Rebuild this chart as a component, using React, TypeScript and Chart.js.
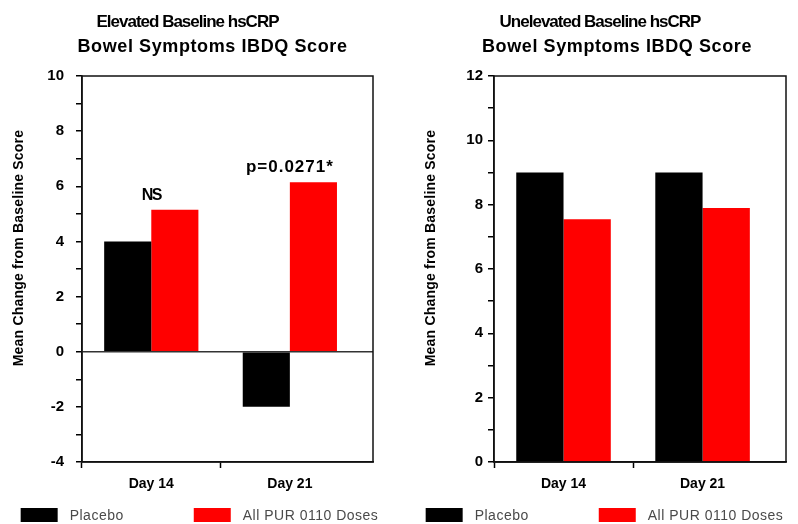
import React, { useEffect, useRef } from 'react';
import { Chart, registerables } from 'chart.js';

Chart.register(...registerables);

// ---- data ----
const categories = ['Day 14', 'Day 21'];
const seriesNames = ['Placebo', 'All PUR 0110 Doses'];
const seriesColors = ['#000000', '#ff0000'];

const elevatedPlacebo = [4, -2];
const elevatedPur = [5.15, 6.15];
const elevatedNotes = ['NS', 'p=0.0271*'];
const elevatedTitle = ['Elevated Baseline hsCRP', 'Bowel Symptoms IBDQ Score'];
const elevatedRange = [-4, 10];

const unelevatedPlacebo = [9, 9];
const unelevatedPur = [7.55, 7.9];
const unelevatedNotes = ['', ''];
const unelevatedTitle = ['Unelevated Baseline hsCRP', 'Bowel Symptoms IBDQ Score'];
const unelevatedRange = [0, 12];

const yAxisTitle = 'Mean Change from Baseline Score';

const FONT = "'Liberation Sans', Arial, Helvetica, sans-serif";

function makePlugins(titleLines: string[], notes: string[], title2Shift: number, legendShift: number) {
  const frame = {
    id: 'frame',
    afterDraw(chart: any) {
      const { ctx, chartArea: a } = chart;
      ctx.save();
      ctx.strokeStyle = '#111';
      ctx.lineWidth = 1.5;
      ctx.strokeRect(a.left, a.top, a.right - a.left, a.bottom - a.top);
      ctx.restore();
    },
  };
  const texts = {
    id: 'texts',
    afterDraw(chart: any) {
      const { ctx, chartArea: a } = chart;
      const cx = (a.left + a.right) / 2;
      ctx.save();
      ctx.fillStyle = '#000';
      ctx.textAlign = 'center';
      ctx.textBaseline = 'middle';
      // title line 1
      ctx.font = `bold 17px ${FONT}`;
      (ctx as any).letterSpacing = '-1px';
      ctx.fillText(titleLines[0], cx - 40, 22);
      // title line 2
      ctx.font = `bold 18px ${FONT}`;
      (ctx as any).letterSpacing = '0.6px';
      ctx.fillText(titleLines[1], cx + title2Shift, 47);
      // y axis title
      (ctx as any).letterSpacing = '0.2px';
      ctx.font = `bold 14px ${FONT}`;
      ctx.translate(a.left - 63, (a.top + a.bottom) / 2 - 21);
      ctx.rotate(-Math.PI / 2);
      ctx.fillText(yAxisTitle, 0, 0);
      ctx.restore();

      // legend
      ctx.save();
      ctx.font = `14px ${FONT}`;
      (ctx as any).letterSpacing = '0.5px';
      ctx.textBaseline = 'middle';
      ctx.textAlign = 'left';
      const boxW = 37;
      const boxH = 14;
      const gap = 12;
      const itemGap = 70;
      const ds = chart.data.datasets;
      const widths = ds.map((d: any) => boxW + gap + ctx.measureText(d.label).width);
      const total = widths.reduce((s: number, w: number) => s + w, 0) + itemGap * (ds.length - 1);
      let x = chart.width / 2 + legendShift - total / 2;
      const top = 508;
      ds.forEach((d: any, i: number) => {
        ctx.fillStyle = d.backgroundColor;
        ctx.fillRect(x, top, boxW, boxH);
        ctx.fillStyle = '#4a4a4a';
        ctx.fillText(d.label, x + boxW + gap, top + boxH / 2 + 1);
        x += widths[i] + itemGap;
      });
      ctx.restore();
    },
    afterDatasetsDraw(chart: any) {
      const { ctx } = chart;
      const xs = chart.scales.x;
      const ys = chart.scales.y;
      ctx.save();
      ctx.fillStyle = '#000';
      ctx.textAlign = 'center';
      ctx.textBaseline = 'alphabetic';
      notes.forEach((t, i) => {
        if (!t) return;
        const maxVal = Math.max(...chart.data.datasets.map((d: any) => d.data[i].y));
        if (t === 'NS') {
          ctx.font = `bold 16px ${FONT}`;
          (ctx as any).letterSpacing = '-1.5px';
        } else {
          ctx.font = `bold 17px ${FONT}`;
          (ctx as any).letterSpacing = '1px';
        }
        ctx.fillText(t, xs.getPixelForValue(i), ys.getPixelForValue(maxVal) - 10);
      });
      ctx.restore();
    },
  };
  return [frame, texts];
}

type Props = {
  titleLines: string[];
  placebo: number[];
  pur: number[];
  notes: string[];
  range: number[];
  yWidth: number;
  rightPad: number;
  labelPad: number;
  title2Shift: number;
  legendShift: number;
};

const isCategoryTick = (v: any) => Number.isInteger(v) && v >= 0 && v < categories.length;

function BarPanel(p: Props) {
  const ref = useRef<HTMLCanvasElement | null>(null);
  useEffect(() => {
    if (!ref.current) return;
    const datasets = [p.placebo, p.pur].map((vals, s) => ({
      label: seriesNames[s],
      data: vals.map((v, i) => ({ x: i, y: v })),
      backgroundColor: seriesColors[s],
      borderWidth: 0,
      categoryPercentage: 0.68,
      barPercentage: 1.0,
    }));
    const xFont = { family: FONT, size: 14, weight: 'bold' as const };
    const yFont = { family: FONT, size: 15, weight: 'bold' as const };
    const chart = new Chart(ref.current, {
      type: 'bar',
      data: { datasets } as any,
      options: {
        responsive: false,
        animation: false,
        events: [],
        layout: { padding: { left: 8, right: p.rightPad, top: 76, bottom: 32 } },
        plugins: {
          legend: { display: false },
          tooltip: { enabled: false },
          title: { display: false },
        },
        scales: {
          x: {
            type: 'linear',
            min: -0.5,
            max: 1.6,
            offset: false,
            afterBuildTicks: (s: any) => {
              s.ticks = categories.map((_, i) => ({ value: i }));
            },
            afterFit: (s: any) => {
              s.height = 30;
            },
            ticks: {
              callback: (v: any) => (isCategoryTick(v) ? categories[v] : ''),
              font: xFont,
              color: '#000',
              padding: 8,
              autoSkip: false,
              maxRotation: 0,
            },
            grid: {
              drawOnChartArea: false,
              tickLength: 6,
              tickColor: (c: any) => (c.tick && isCategoryTick(c.tick.value) ? '#000' : 'rgba(0,0,0,0)'),
              tickWidth: 1.5,
            },
            border: { display: true, color: '#111', width: 1.5 },
          },
          y: {
            min: p.range[0],
            max: p.range[1],
            afterFit: (s: any) => {
              s.width = p.yWidth;
            },
            ticks: {
              stepSize: 1,
              autoSkip: false,
              callback: (v: any) => (Number(v) % 2 === 0 ? String(v) : ''),
              font: yFont,
              color: '#000',
              padding: p.labelPad,
            },
            grid: {
              drawOnChartArea: true,
              color: (c: any) => (c.tick && c.tick.value === 0 ? '#333' : 'rgba(0,0,0,0)'),
              lineWidth: 1.5,
              tickLength: 6,
              tickColor: '#000',
              tickWidth: 1.5,
            },
            border: { display: true, color: '#111', width: 1.5 },
          },
        },
      } as any,
      plugins: makePlugins(p.titleLines, p.notes, p.title2Shift, p.legendShift) as any,
    });
    return () => chart.destroy();
  }, []);
  return <canvas ref={ref} width={399} height={524} style={{ display: 'block' }} />;
}

export default function App() {
  useEffect(() => {
    document.body.style.margin = '0';
  }, []);
  return (
    <div style={{ display: 'flex', width: 798, height: 524, background: '#fff' }}>
      <BarPanel
        titleLines={elevatedTitle}
        placebo={elevatedPlacebo}
        pur={elevatedPur}
        notes={elevatedNotes}
        range={elevatedRange}
        yWidth={74}
        rightPad={26}
        labelPad={12}
        title2Shift={-15}
        legendShift={0}
      />
      <BarPanel
        titleLines={unelevatedTitle}
        placebo={unelevatedPlacebo}
        pur={unelevatedPur}
        notes={unelevatedNotes}
        range={unelevatedRange}
        yWidth={87}
        rightPad={12}
        labelPad={5}
        title2Shift={-23}
        legendShift={6}
      />
    </div>
  );
}
